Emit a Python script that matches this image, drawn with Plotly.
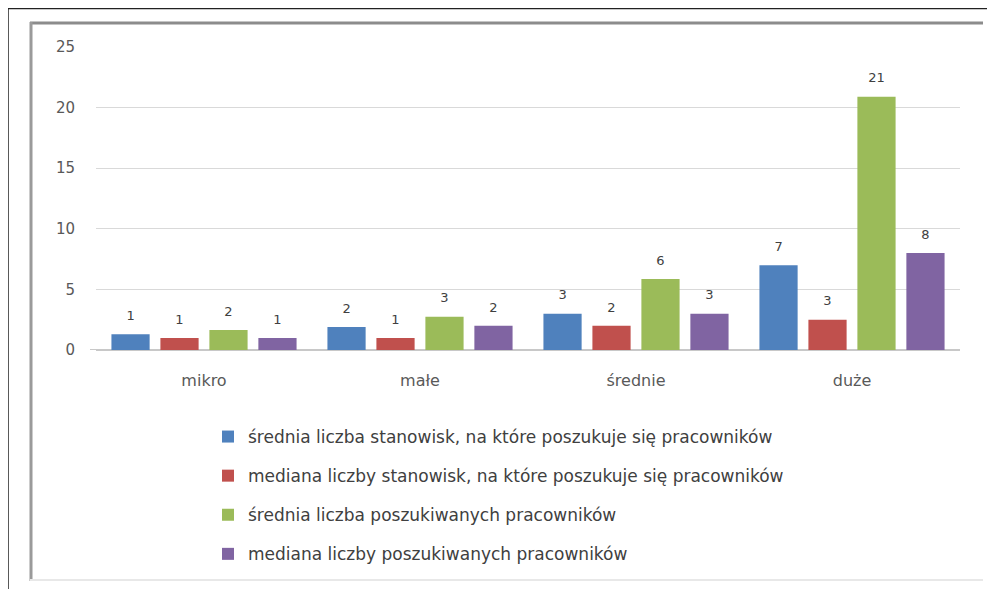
import plotly.graph_objects as go

# categories and series
categories = ["mikro", "małe", "średnie", "duże"]

srednia_stanowisk = [1.3, 1.9, 3.0, 7.0]
mediana_stanowisk = [1.0, 1.0, 2.0, 2.5]
srednia_pracownikow = [1.65, 2.75, 5.85, 20.9]
mediana_pracownikow = [1.0, 2.0, 3.0, 8.0]

labels_srednia_stanowisk = ["1", "2", "3", "7"]
labels_mediana_stanowisk = ["1", "1", "2", "3"]
labels_srednia_pracownikow = ["2", "3", "6", "21"]
labels_mediana_pracownikow = ["1", "2", "3", "8"]

series = [
    ("średnia liczba stanowisk, na które poszukuje się pracowników",
     srednia_stanowisk, labels_srednia_stanowisk, "#4f81bd"),
    ("mediana liczby stanowisk, na które poszukuje się pracowników",
     mediana_stanowisk, labels_mediana_stanowisk, "#c0504d"),
    ("średnia liczba poszukiwanych pracowników",
     srednia_pracownikow, labels_srednia_pracownikow, "#9bbb59"),
    ("mediana liczby poszukiwanych pracowników",
     mediana_pracownikow, labels_mediana_pracownikow, "#8064a2"),
]

FONT = "DejaVu Sans, sans-serif"

fig = go.Figure()
for i, (name, vals, labs, color) in enumerate(series):
    fig.add_trace(go.Bar(
        x=categories, y=vals, name=name, legendgroup=str(i),
        marker=dict(color=color, line=dict(width=0)),
        hoverinfo="skip",
    ))
# value labels, floated a bit above the bars
for i, (name, vals, labs, color) in enumerate(series):
    fig.add_trace(go.Scatter(
        x=categories, y=vals, text=labs, mode="markers+text",
        textposition="top center", cliponaxis=False, showlegend=False,
        marker=dict(size=16, color="rgba(0,0,0,0)"),
        textfont=dict(size=13, color="#404040", family=FONT),
        hoverinfo="skip",
    ))

# plot area in screen pixels: x 96..960, y 47..350 (page adds an 8px offset)
OFF = 8
L, R, T, B = 96, 960, 47, 350
W, H = R - L, B - T


def px(x):
    return (x - L) / W


def py(y):
    return (B - y) / H


shapes = [
    # outer page frame (black)
    dict(type="line", xref="paper", yref="paper", x0=px(0), x1=px(995),
         y0=py(8.5), y1=py(8.5), line=dict(color="#222222", width=1.5)),
    dict(type="line", xref="paper", yref="paper", x0=px(8), x1=px(8),
         y0=py(8), y1=py(589), line=dict(color="#222222", width=1.5)),
    # chart frame (grey)
    dict(type="line", xref="paper", yref="paper", x0=px(30), x1=px(983),
         y0=py(23), y1=py(23), line=dict(color="#8c8c8c", width=3)),
    dict(type="line", xref="paper", yref="paper", x0=px(31), x1=px(31),
         y0=py(22), y1=py(581), line=dict(color="#9a9a9a", width=3)),
    dict(type="line", xref="paper", yref="paper", x0=px(30), x1=px(983),
         y0=py(580), y1=py(580), line=dict(color="#e8e8e8", width=2)),
    # zero line reaches a little left of the grid
    dict(type="line", xref="paper", yref="y", x0=px(90), x1=px(96),
         y0=0, y1=0, line=dict(color="#c8c8c8", width=2)),
]

fig.update_layout(
    width=995 - OFF, height=589 - OFF,
    margin=dict(l=L - OFF, r=995 - R, t=T - OFF, b=589 - B),
    paper_bgcolor="white", plot_bgcolor="white",
    font=dict(family=FONT, color="#595959", size=15),
    barmode="group", bargap=0.093, bargroupgap=0.22,
    scattermode="group", scattergap=0.093,
    showlegend=True,
    legend=dict(
        x=px(208), y=py(419), xanchor="left", yanchor="top",
        orientation="v", traceorder="grouped", tracegroupgap=14,
        font=dict(size=17, color="#404040", family=FONT),
        bgcolor="rgba(0,0,0,0)",
    ),
    shapes=shapes,
)

fig.update_xaxes(
    showgrid=False, showline=False, ticks="", ticklabelstandoff=19,
    tickfont=dict(size=16, color="#595959"),
)
fig.update_yaxes(
    range=[0, 25], dtick=5, showgrid=True, gridcolor="#d9d9d9", gridwidth=1,
    zeroline=True, zerolinecolor="#c8c8c8", zerolinewidth=2,
    showline=False, ticks="", ticklabelstandoff=20,
    tickfont=dict(size=15, color="#595959"),
)

fig.write_html("out.html")
